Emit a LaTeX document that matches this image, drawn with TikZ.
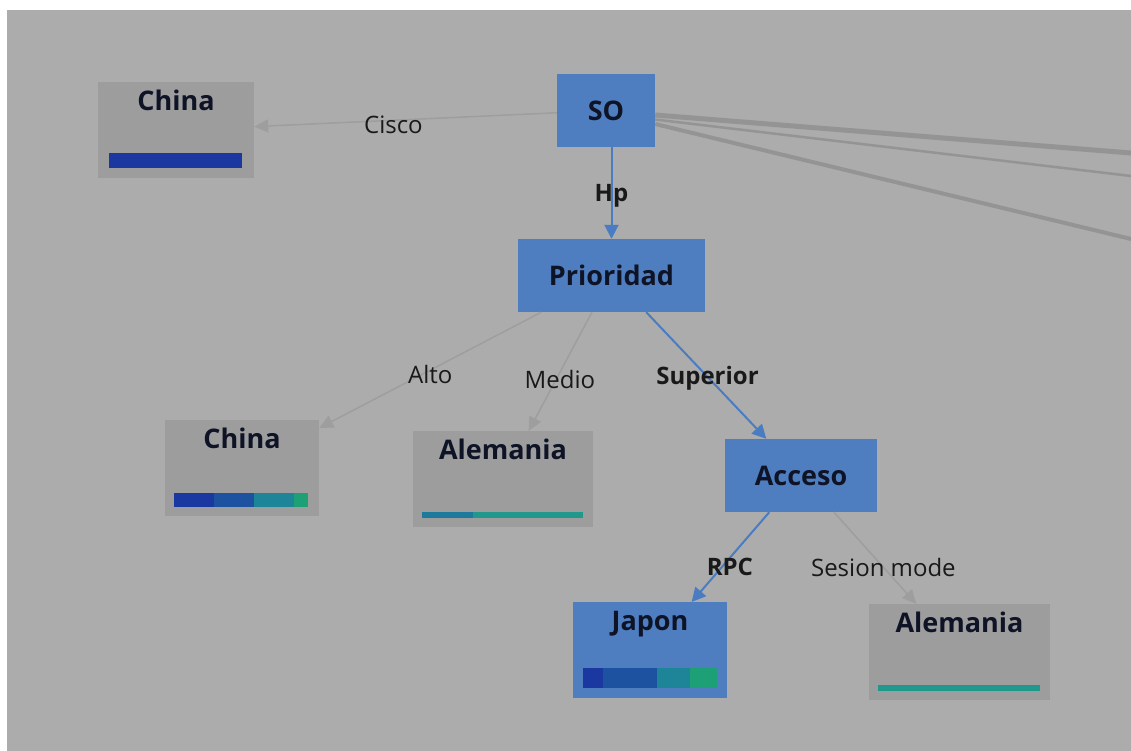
\documentclass[tikz,border=0pt]{standalone}
\usepackage{fontspec}
\setmainfont{Open Sans}
\usetikzlibrary{arrows.meta}
\definecolor{bg}{RGB}{172,172,172}
\definecolor{nodegray}{RGB}{157,157,157}
\definecolor{nodeblue}{RGB}{78,126,192}
\definecolor{edgegray}{RGB}{158,158,158}
\definecolor{thickgray}{RGB}{148,148,148}
\definecolor{edgeblue}{RGB}{74,124,194}
\definecolor{txtdark}{RGB}{14,20,38}
\definecolor{bdblue}{RGB}{26,56,160}
\definecolor{bmblue}{RGB}{28,82,160}
\definecolor{bteal}{RGB}{30,132,152}
\definecolor{bgreen}{RGB}{30,160,118}
\definecolor{bteal2}{RGB}{30,122,156}
\definecolor{bteal3}{RGB}{32,152,140}
\begin{document}
\begin{tikzpicture}[x=1pt,y=-1pt,
  bluebox/.style={fill=nodeblue,draw=none,inner sep=0pt,text=txtdark,
    font=\fontsize{27}{30}\selectfont\bfseries,minimum height=73pt},
  resbox/.style={fill=nodegray,draw=none,inner sep=0pt,anchor=north,text=txtdark,
    font=\fontsize{27}{30}\selectfont\bfseries,text height=28pt,text depth=68pt},
  grayedge/.style={draw=edgegray,line width=1.5pt,
    -{Triangle[length=14pt,width=13pt]}},
  blueedge/.style={draw=edgeblue,line width=2pt,
    -{Triangle[length=14pt,width=14pt]}},
  elabel/.style={font=\fontsize{24}{27}\selectfont,text=black!90,inner sep=0pt},
  belabel/.style={font=\fontsize{24}{27}\selectfont\bfseries,text=black!90,inner sep=0pt},
  thickline/.style={draw=thickgray}
]
\useasboundingbox (0,0) rectangle (1131,751);
\fill[white] (0,0) rectangle (1131,751);
\fill[bg] (7,10) rectangle (1131,751);

% nodes
\node[bluebox,minimum width=98pt] (so) at (606,110.5) {SO};
\node[bluebox,minimum width=187pt] (prio) at (611.5,275.5) {Prioridad};
\node[bluebox,minimum width=152pt] (acc) at (801,475.5) {Acceso};
\node[resbox,minimum width=156pt] (c1) at (176,82) {China};
\node[resbox,minimum width=154pt] (c2) at (242,420) {China};
\node[resbox,minimum width=180pt] (al1) at (503,431) {Alemania};
\node[resbox,minimum width=154pt,fill=nodeblue] (jp) at (650,602) {Japon};
\node[resbox,minimum width=181pt] (al2) at (959.5,604) {Alemania};

% bars
\fill[bdblue] (109,153) rectangle (242,168);
\fill[bdblue] (174,493) rectangle (214,507);
\fill[bmblue] (214,493) rectangle (254,507);
\fill[bteal] (254,493) rectangle (294,507);
\fill[bgreen] (294,493) rectangle (308,507);
\fill[bteal2] (422,512) rectangle (473,518);
\fill[bteal3] (473,512) rectangle (583,518);
\fill[bdblue] (583,668) rectangle (603,688);
\fill[bmblue] (603,668) rectangle (657,688);
\fill[bteal] (657,668) rectangle (690,688);
\fill[bgreen] (690,668) rectangle (717,688);
\fill[bteal3] (878,685) rectangle (1040,691);

% off-picture ends
\coordinate (r1) at (1131,153);
\coordinate (r2) at (1131,176);
\coordinate (r3) at (1131,239);

% connectors
\draw[thickline,line width=5pt] (so.east) ++(0,4.5) -- (r1);
\draw[thickline,line width=2.5pt] (so.east) ++(0,9) -- (r2);
\draw[thickline,line width=4pt] (so.east) ++(0,13.5) -- (r3);

\draw[grayedge] (so) -- node[elabel,pos=0.54,yshift=-5pt] {Cisco} (c1);
\draw[blueedge] (so.south -| prio.north) -- node[belabel,yshift=-3pt] {Hp} (prio.north);
\draw[grayedge] (prio) -- node[elabel,pos=0.5,yshift=-4pt] {Alto} (c2);
\draw[grayedge] (prio) -- node[elabel,pos=0.57,xshift=4pt] {Medio} (al1);
\draw[blueedge] (prio) -- node[belabel,pos=0.51,yshift=-1pt] {Superior} (acc);
\draw[blueedge] (acc) -- node[belabel,pos=0.61,xshift=8pt] {RPC} (jp);
\draw[grayedge] (acc) -- node[elabel,pos=0.6] {Sesion mode} (al2);
\end{tikzpicture}
\end{document}
